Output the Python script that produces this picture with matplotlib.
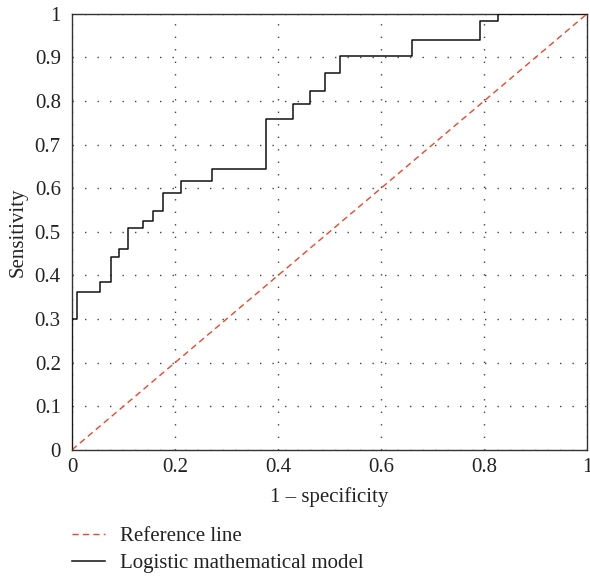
import matplotlib
matplotlib.use("Agg")
import matplotlib.pyplot as plt
from matplotlib.lines import Line2D

# ROC curve vertices
fpr = [0, 0, 0.010, 0.054, 0.075, 0.091, 0.109, 0.138, 0.157, 0.177, 0.212,
       0.271, 0.377, 0.430, 0.462, 0.492, 0.520, 0.661, 0.792, 0.827, 1.0]
tpr = [0, 0.300, 0.362, 0.385, 0.442, 0.460, 0.508, 0.525, 0.548, 0.588, 0.616,
       0.645, 0.758, 0.793, 0.824, 0.864, 0.903, 0.941, 0.984, 1.0, 1.0]

ref_x = [0, 1]
ref_y = [0, 1]

x_ticks = [0, 0.2, 0.4, 0.6, 0.8, 1]
x_labels = ["0", "0.2", "0.4", "0.6", "0.8", "1"]
y_ticks = [0, 0.1, 0.2, 0.3, 0.4, 0.5, 0.6, 0.7, 0.8, 0.9, 1]
y_labels = ["0", "0.1", "0.2", "0.3", "0.4", "0.5", "0.6", "0.7", "0.8", "0.9", "1"]

plt.rcParams["font.family"] = ["Liberation Serif", "DejaVu Serif"]

fig = plt.figure(figsize=(5.9, 5.76), dpi=100)
ax = fig.add_axes([0.122, 0.219, 0.873, 0.757])

ax.plot(ref_x, ref_y, color="#f0452a", lw=1.0, linestyle=(0, (4.5, 3)), zorder=3)
ax.plot(fpr, tpr, color="#111111", lw=1.1, drawstyle="steps-post", zorder=4)

ax.set_xlim(0, 1)
ax.set_ylim(0, 1)
ax.set_xticks(x_ticks)
ax.set_xticklabels(x_labels)
ax.set_yticks(y_ticks)
ax.set_yticklabels(y_labels)
ax.tick_params(length=0, labelsize=15, colors="#222222")
ax.tick_params(axis="y", pad=8)
ax.tick_params(axis="x", pad=6)
ax.grid(True, color="#444444", lw=1.0, linestyle=(0, (1, 8)))
for s in ax.spines.values():
    s.set_color("#333333")
    s.set_linewidth(1.0)

ax.set_xlabel("1 \u2013 specificity", fontsize=15, color="#222222", labelpad=7)
ax.set_ylabel("Sensitivity", fontsize=15, color="#222222", labelpad=5)

handles = [
    Line2D([], [], color="#f0452a", lw=1.0, linestyle=(0, (4.5, 3))),
    Line2D([], [], color="#111111", lw=1.1),
]
fig.legend(handles, ["Reference line", "Logistic mathematical model"],
           loc="upper left", bbox_to_anchor=(0.09, 0.118), frameon=False,
           fontsize=15, handlelength=1.6, handletextpad=0.7, labelspacing=0.36,
           labelcolor="#222222")

fig.savefig("out.png", dpi=100)
